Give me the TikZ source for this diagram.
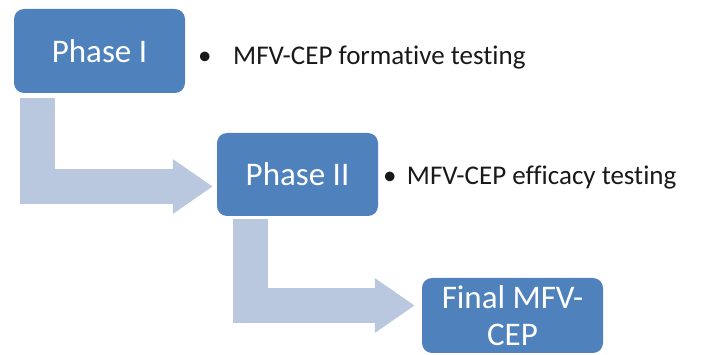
\documentclass[tikz,border=0pt]{standalone}
\usepackage{fontspec}
\setmainfont{Carlito}[Ligatures=NoCommon]
\usetikzlibrary{arrows.meta}
\definecolor{phaseblue}{RGB}{79,129,189}
\definecolor{flowgrey}{RGB}{185,200,222}
\tikzstyle{phase} = [fill=phaseblue, rounded corners=10pt, text=white, align=center, inner sep=0pt, font={\fontsize{33}{37}\selectfont}]
\tikzstyle{flow} = [draw=flowgrey, line width=35pt, -{Triangle[width=52pt,length=40pt]}]
\tikzstyle{item} = [anchor=base west, inner sep=0pt, text=black!90, font={\fontsize{27}{32}\selectfont}]

\begin{document}
\begin{tikzpicture}[x=1pt,y=-1pt]
        \useasboundingbox (0,0) rectangle (707,355);
        \node[phase,minimum width=171pt,minimum height=84pt](p1) at (99.5,51){Phase I};
        \node[phase,minimum width=161pt,minimum height=83pt](p2) at (297.5,174.5){Phase II};
        \node[phase,minimum width=181pt,minimum height=75pt](p3) at (512.5,315.5){Final MFV-\\CEP};
        \node[item](t1) at (198,65){\textbullet\hspace{21.6pt}MFV-CEP formative testing};
        \node[item](t2) at (383,185){\textbullet\hspace{10.3pt}MFV-CEP efficacy testing};
        \draw[flow]([xshift=-62.5pt,yshift=-5pt]p1.south) |- ([xshift=-4pt,yshift=-12pt]p2.west);
        \draw[flow]([xshift=-47pt,yshift=-3pt]p2.south) |- ([xshift=-7pt,yshift=10pt]p3.west);
      \end{tikzpicture}
\end{document}
